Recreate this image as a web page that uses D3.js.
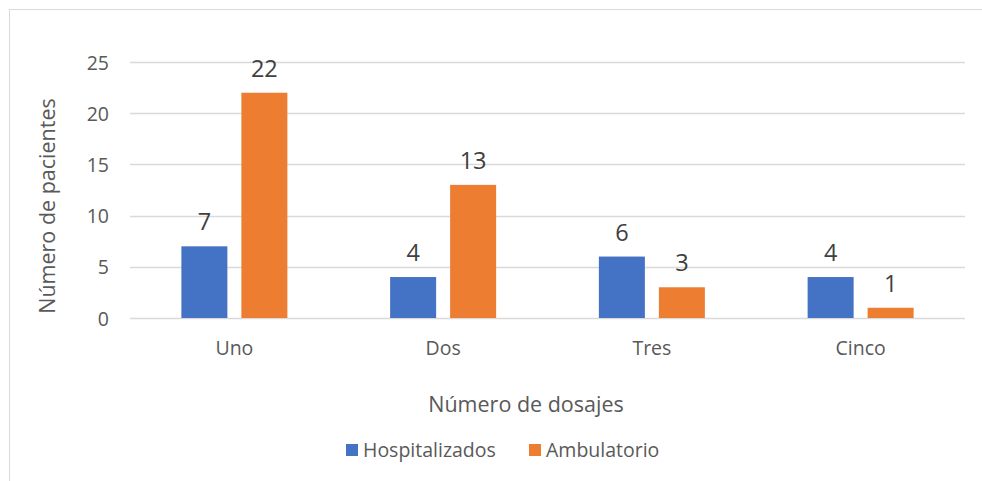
<!DOCTYPE html>
<html><head><meta charset="utf-8">
<script src="https://cdn.jsdelivr.net/npm/d3@7"></script>
<style>body{margin:0;background:#fff}svg{display:block;font-family:"Open Sans",sans-serif}</style>
</head><body>
<svg id="c" width="982" height="481"></svg>
<script>
const categories = ["Uno", "Dos", "Tres", "Cinco"];
const seriesNames = ["Hospitalizados", "Ambulatorio"];
const hospitalizados = [7, 4, 6, 4];
const ambulatorio = [22, 13, 3, 1];
const yTicks = [0, 5, 10, 15, 20, 25];
const colors = ["#4472c4", "#ed7d31"];

const svg = d3.select("#c");
svg.append("rect").attr("x", 9.5).attr("y", 9.5).attr("width", 1000).attr("height", 500)
  .attr("fill", "#fff").attr("stroke", "#d9d9d9");

const m = {left: 130, right: 965, top: 62, bottom: 318};
const x = d3.scaleBand().domain(categories).range([m.left, m.right]);
const y = d3.scaleLinear().domain([0, 25]).range([m.bottom, m.top]);
const barW = 46, gap = 14;

svg.append("g").selectAll("line").data(yTicks).join("line")
  .attr("x1", m.left).attr("x2", m.right)
  .attr("y1", d => Math.round(y(d)) + 0.5).attr("y2", d => Math.round(y(d)) + 0.5)
  .attr("stroke", "#d9d9d9").attr("stroke-width", 1.3);

const yAxis = d3.axisLeft(y).tickValues(yTicks).tickSize(0).tickPadding(0);
const ga = svg.append("g").attr("transform", `translate(${m.left - 21},0)`).call(yAxis);
ga.select(".domain").remove();
ga.selectAll("text").attr("font-size", 19.5).attr("fill", "#595959").attr("font-family", "Open Sans").attr("dy", "0.36em");

const xAxis = d3.axisBottom(x).tickSize(0).tickPadding(0);
const gx = svg.append("g").attr("transform", `translate(0,${m.bottom + 37})`).call(xAxis);
gx.select(".domain").remove();
gx.selectAll("text").attr("font-size", 19.5).attr("fill", "#595959").attr("font-family", "Open Sans").attr("dy", 0);

const series = [hospitalizados, ambulatorio];
series.forEach((vals, si) => {
  const g = svg.append("g");
  const off = si === 0 ? -(gap / 2 + barW) : gap / 2;
  g.selectAll("rect").data(vals).join("rect")
    .attr("x", (d, i) => x(categories[i]) + x.bandwidth() / 2 + off)
    .attr("y", d => y(d)).attr("width", barW).attr("height", d => y(0) - y(d))
    .attr("fill", colors[si]);
  g.selectAll("text").data(vals).join("text")
    .attr("x", (d, i) => x(categories[i]) + x.bandwidth() / 2 + off + barW / 2)
    .attr("y", d => y(d) - 16)
    .attr("text-anchor", "middle").attr("font-size", 23.5).attr("fill", "#404040")
    .text(d => d);
});

svg.append("text").attr("transform", `translate(55,206) rotate(-90)`)
  .attr("text-anchor", "middle").attr("font-size", 21.5).attr("fill", "#595959").text("Número de pacientes");
svg.append("text").attr("x", 526).attr("y", 412)
  .attr("text-anchor", "middle").attr("font-size", 21.5).attr("fill", "#595959").text("Número de dosajes");

const legX = [346, 529];
seriesNames.forEach((n, i) => {
  svg.append("rect").attr("x", legX[i]).attr("y", 444).attr("width", 12).attr("height", 12).attr("fill", colors[i]);
  svg.append("text").attr("x", legX[i] + 17).attr("y", 457).attr("font-size", 19.5).attr("fill", "#595959").text(n);
});
</script>
</body></html>
